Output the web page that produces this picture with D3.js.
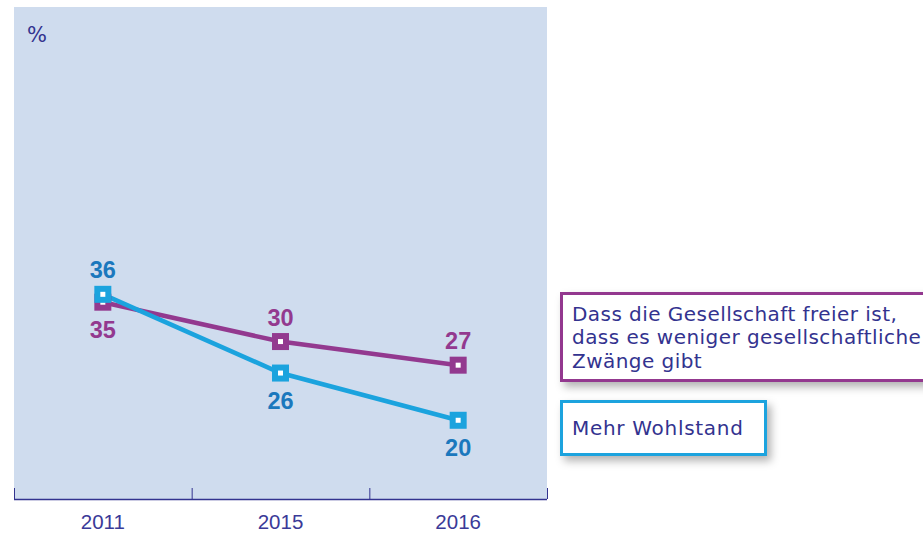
<!DOCTYPE html>
<html>
<head>
<meta charset="utf-8">
<script src="https://cdn.jsdelivr.net/npm/d3@7"></script>
<style>
  body { margin: 0; background: #fff; }
  svg { display: block; }
</style>
</head>
<body>
<div id="canvas"></div>
<script>
const years = ["2011", "2015", "2016"];
const freierValues = [35, 30, 27];
const wohlstandValues = [36, 26, 20];
const legendFreier = ["Dass die Gesellschaft freier ist,", "dass es weniger gesellschaftliche", "Zwänge gibt"];
const legendWohlstand = ["Mehr Wohlstand"];

const series = [
  { name: "freier", values: freierValues, line: "#93398f", label: "#93398f", legend: legendFreier },
  { name: "wohlstand", values: wohlstandValues, line: "#1ba3de", label: "#1b78bd", legend: legendWohlstand }
];

const width = 923;
const height = 535;
const plot = { left: 14, right: 547, top: 7, bottom: 499 };
const navy = "#33338f";

const svg = d3.select("#canvas").append("svg")
  .attr("width", width)
  .attr("height", height);

const defs = svg.append("defs");
const shadow = defs.append("filter").attr("id", "shadow")
  .attr("x", "-10%").attr("y", "-20%").attr("width", "130%").attr("height", "160%");
shadow.append("feDropShadow")
  .attr("dx", 4).attr("dy", 5).attr("stdDeviation", 4)
  .attr("flood-color", "#000").attr("flood-opacity", 0.3);

svg.append("rect")
  .attr("x", plot.left).attr("y", plot.top)
  .attr("width", plot.right - plot.left).attr("height", plot.bottom - plot.top)
  .attr("fill", "#cfdcee");

const x = d3.scaleBand().domain(years).range([plot.left, plot.right]);
const y = d3.scaleLinear().domain([10, 72.5]).range([plot.bottom, plot.top]);
const cx = d => x(d) + x.bandwidth() / 2;

// x axis: ticks at band edges pointing up
const axis = svg.append("g");
axis.append("line")
  .attr("x1", plot.left).attr("x2", plot.right)
  .attr("y1", plot.bottom + 0.5).attr("y2", plot.bottom + 0.5)
  .attr("stroke", navy).attr("stroke-width", 1.3);
const edges = years.map(d => x(d)).concat([plot.right]);
axis.selectAll(".tick").data(edges).join("line")
  .attr("class", "tick")
  .attr("x1", d => d + 0.5).attr("x2", d => d + 0.5)
  .attr("y1", plot.bottom - 11).attr("y2", plot.bottom)
  .attr("stroke", navy).attr("stroke-width", 1);
axis.selectAll(".tl").data(years).join("text")
  .attr("class", "tl")
  .attr("x", d => cx(d)).attr("y", 529)
  .attr("text-anchor", "middle")
  .attr("font-family", "Liberation Sans, Arial, sans-serif")
  .attr("font-size", 20.5)
  .attr("fill", "#3a3a98")
  .text(d => d);

svg.append("text")
  .attr("x", 27).attr("y", 42)
  .attr("font-family", "DejaVu Sans, sans-serif")
  .attr("font-size", 21)
  .attr("fill", navy)
  .text("%");

const line = d3.line()
  .x((d, i) => cx(years[i]))
  .y(d => y(d));

series.forEach(s => {
  svg.append("path")
    .datum(s.values)
    .attr("d", line)
    .attr("fill", "none")
    .attr("stroke", s.line)
    .attr("stroke-width", 4.5);
});

// markers drawn after both lines
series.forEach(s => {
  const g = svg.append("g");
  g.selectAll("rect").data(s.values).join("rect")
    .attr("x", (d, i) => cx(years[i]) - 5.5)
    .attr("y", d => y(d) - 5.5)
    .attr("width", 11).attr("height", 11)
    .attr("fill", "#fff")
    .attr("stroke", s.line)
    .attr("stroke-width", 6);
});

// value labels: above when this series is the higher one at that year
series.forEach((s, si) => {
  const other = series[1 - si];
  svg.append("g").selectAll("text").data(s.values).join("text")
    .attr("x", (d, i) => cx(years[i]))
    .attr("y", (d, i) => d >= other.values[i] ? y(d) - 16 : y(d) + 36)
    .attr("text-anchor", "middle")
    .attr("font-family", "Liberation Sans, Arial, sans-serif")
    .attr("font-weight", "bold")
    .attr("font-size", 23.5)
    .attr("fill", s.label)
    .text(d => d);
});

// legend boxes
const legendBoxes = [
  { s: series[0], x: 560, y: 292, w: 420, h: 90, spacing: 0.45 },
  { s: series[1], x: 560, y: 400, w: 207, h: 56, spacing: 0.7 }
];
legendBoxes.forEach(b => {
  const g = svg.append("g");
  g.append("rect")
    .attr("x", b.x + 1.5).attr("y", b.y + 1.5)
    .attr("width", b.w - 3).attr("height", b.h - 3)
    .attr("fill", "#fff")
    .attr("stroke", b.s.line)
    .attr("stroke-width", 3)
    .attr("filter", "url(#shadow)");
  const lines = b.s.legend;
  const top = b.y + (b.h - lines.length * 23.5) / 2 + 19;
  g.selectAll("text").data(lines).join("text")
    .attr("x", b.x + 12)
    .attr("y", (d, i) => top + i * 23.5)
    .attr("font-family", "DejaVu Sans, sans-serif")
    .attr("font-size", 20)
    .attr("letter-spacing", b.spacing)
    .attr("fill", navy)
    .text(d => d);
});
</script>
</body>
</html>
